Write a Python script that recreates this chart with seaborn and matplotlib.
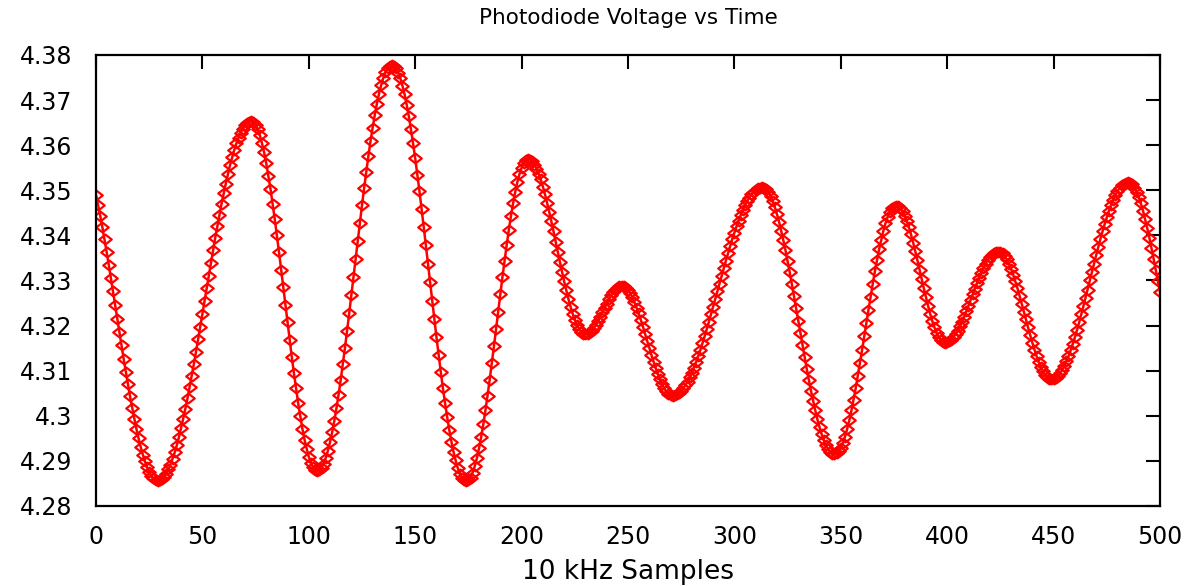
import numpy as np
import pandas as pd
import matplotlib
matplotlib.use("Agg")
import matplotlib.pyplot as plt
import seaborn as sns
from matplotlib.path import Path
from matplotlib.ticker import FuncFormatter

# Photodiode reading, in mV above 4.28 V, one value per 10 kHz sample
mv_000_099 = [
    69.0, 66.7, 64.3, 61.8, 59.1, 56.3, 53.5, 50.5, 47.6, 44.6,
    41.5, 38.5, 35.6, 32.6, 29.8, 27.0, 24.3, 21.8, 19.4, 17.1,
    15.0, 13.1, 11.4, 9.9, 8.6, 7.5, 6.7, 6.1, 5.7, 5.6,
    5.7, 6.0, 6.5, 7.2, 8.1, 9.2, 10.5, 11.9, 13.5, 15.3,
    17.3, 19.4, 21.6, 23.9, 26.4, 28.9, 31.5, 34.2, 37.0, 39.8,
    42.6, 45.5, 48.3, 51.1, 53.9, 56.7, 59.4, 62.0, 64.5, 67.0,
    69.3, 71.5, 73.6, 75.6, 77.3, 79.0, 80.4, 81.7, 82.8, 83.7,
    84.4, 84.9, 85.2, 85.3, 85.1, 84.5, 83.5, 82.2, 80.4, 78.4,
    76.0, 73.2, 70.3, 67.0, 63.6, 60.0, 56.3, 52.4, 48.5, 44.6,
    40.7, 36.8, 33.1, 29.5, 26.1, 22.8, 19.9, 17.1, 14.7, 12.7,
]
mv_100_199 = [
    10.9, 9.6, 8.6, 8.0, 7.8, 8.0, 8.5, 9.4, 10.7, 12.3,
    14.2, 16.4, 18.9, 21.7, 24.7, 28.0, 31.5, 35.1, 38.9, 42.8,
    46.8, 50.8, 54.8, 58.8, 62.8, 66.7, 70.5, 74.1, 77.6, 80.9,
    83.9, 86.7, 89.2, 91.4, 93.3, 94.9, 96.2, 97.1, 97.6, 97.8,
    97.6, 97.1, 96.1, 94.9, 93.2, 91.3, 89.0, 86.4, 83.5, 80.4,
    77.1, 73.5, 69.8, 65.9, 61.9, 57.8, 53.7, 49.6, 45.5, 41.4,
    37.4, 33.5, 29.8, 26.2, 22.9, 19.8, 16.9, 14.3, 12.0, 10.1,
    8.4, 7.2, 6.2, 5.7, 5.5, 5.7, 6.3, 7.4, 8.8, 10.6,
    12.8, 15.3, 18.1, 21.2, 24.5, 28.0, 31.7, 35.4, 39.3, 43.1,
    47.0, 50.8, 54.4, 57.9, 61.2, 64.3, 67.1, 69.6, 71.8, 73.6,
]
mv_200_299 = [
    75.0, 76.1, 76.7, 76.9, 76.8, 76.4, 75.7, 74.8, 73.7, 72.4,
    70.8, 69.1, 67.2, 65.2, 63.1, 60.9, 58.6, 56.4, 54.1, 51.9,
    49.8, 47.8, 45.9, 44.2, 42.6, 41.3, 40.2, 39.3, 38.6, 38.2,
    38.1, 38.2, 38.5, 38.9, 39.5, 40.2, 41.1, 42.0, 43.0, 43.9,
    44.9, 45.8, 46.7, 47.4, 48.0, 48.4, 48.7, 48.8, 48.7, 48.4,
    47.9, 47.2, 46.3, 45.2, 44.0, 42.7, 41.3, 39.8, 38.2, 36.6,
    35.1, 33.5, 32.0, 30.6, 29.3, 28.1, 27.0, 26.1, 25.4, 24.9,
    24.6, 24.5, 24.6, 24.8, 25.1, 25.5, 26.1, 26.8, 27.6, 28.5,
    29.5, 30.7, 31.9, 33.2, 34.6, 36.1, 37.6, 39.2, 40.8, 42.5,
    44.2, 45.9, 47.6, 49.3, 51.0, 52.7, 54.4, 56.0, 57.6, 59.2,
]
mv_300_399 = [
    60.6, 62.0, 63.3, 64.5, 65.7, 66.7, 67.6, 68.4, 69.1, 69.7,
    70.1, 70.4, 70.6, 70.7, 70.6, 70.2, 69.6, 68.7, 67.6, 66.3,
    64.7, 63.0, 61.0, 58.9, 56.7, 54.3, 51.8, 49.2, 46.5, 43.8,
    41.1, 38.4, 35.7, 33.0, 30.4, 27.9, 25.5, 23.3, 21.2, 19.2,
    17.5, 15.9, 14.6, 13.5, 12.6, 12.0, 11.6, 11.5, 11.7, 12.1,
    12.9, 14.0, 15.4, 17.1, 19.0, 21.2, 23.6, 26.1, 28.9, 31.7,
    34.6, 37.6, 40.5, 43.5, 46.4, 49.2, 52.0, 54.5, 56.9, 59.0,
    61.0, 62.7, 64.1, 65.2, 66.0, 66.4, 66.6, 66.5, 66.0, 65.3,
    64.4, 63.2, 61.8, 60.2, 58.4, 56.5, 54.5, 52.4, 50.4, 48.3,
    46.3, 44.4, 42.6, 41.0, 39.6, 38.4, 37.5, 36.8, 36.3, 36.2,
]
mv_400_500 = [
    36.3, 36.5, 36.9, 37.5, 38.1, 38.9, 39.9, 40.9, 42.0, 43.2,
    44.4, 45.7, 46.9, 48.2, 49.4, 50.6, 51.7, 52.7, 53.7, 54.5,
    55.2, 55.7, 56.1, 56.3, 56.4, 56.3, 56.0, 55.4, 54.7, 53.7,
    52.6, 51.3, 49.8, 48.3, 46.6, 44.9, 43.1, 41.4, 39.6, 37.9,
    36.2, 34.7, 33.2, 31.9, 30.8, 29.9, 29.1, 28.5, 28.2, 28.1,
    28.2, 28.4, 28.8, 29.4, 30.1, 31.0, 32.1, 33.2, 34.5, 35.9,
    37.4, 39.0, 40.7, 42.5, 44.3, 46.2, 48.0, 50.0, 51.9, 53.7,
    55.6, 57.4, 59.2, 60.9, 62.5, 64.0, 65.4, 66.7, 67.9, 68.9,
    69.8, 70.5, 71.1, 71.5, 71.7, 71.8, 71.7, 71.3, 70.6, 69.7,
    68.5, 67.1, 65.5, 63.6, 61.6, 59.5, 57.2, 54.8, 52.4, 49.9,
    47.4,
]

base_voltage = 4.28
title = "Photodiode Voltage vs Time"
xlabel = "10 kHz Samples"
x_ticks = [0, 50, 100, 150, 200, 250, 300, 350, 400, 450, 500]
y_ticks = [4.28, 4.29, 4.30, 4.31, 4.32, 4.33, 4.34, 4.35, 4.36, 4.37, 4.38]

mv = mv_000_099 + mv_100_199 + mv_200_299 + mv_300_399 + mv_400_500
df = pd.DataFrame({
    "sample": np.arange(len(mv)),
    "voltage": base_voltage + np.array(mv) / 1000.0,
})

sns.set_style("white")
plt.rcParams["font.family"] = ["DejaVu Sans"]
plt.rcParams["text.color"] = "black"
plt.rcParams["axes.labelcolor"] = "black"

fig = plt.figure(figsize=(11.92, 5.86), dpi=100)
W, H = 1192, 586
L, R, T, B = 96, 1160, 55, 506
ax = fig.add_axes([L / W, 1 - B / H, (R - L) / W, (B - T) / H])

diamond = Path([(-1.0, 0.0), (0.0, 0.78), (1.0, 0.0), (0.0, -0.78), (-1.0, 0.0)],
               [Path.MOVETO, Path.LINETO, Path.LINETO, Path.LINETO, Path.CLOSEPOLY])

sns.lineplot(data=df, x="sample", y="voltage", ax=ax, sort=False, errorbar=None,
             color="#ff0000", linewidth=1.8, marker=diamond, markersize=9,
             markerfacecolor="none", markeredgecolor="#ff0000", markeredgewidth=1.6)

ax.set_xlim(x_ticks[0], x_ticks[-1])
ax.set_ylim(y_ticks[0], y_ticks[-1])
ax.set_xticks(x_ticks)
ax.set_yticks(y_ticks)
ax.yaxis.set_major_formatter(FuncFormatter(lambda v, p: f"{round(v, 4):g}"))

for s in ax.spines.values():
    s.set_linewidth(1.6)
    s.set_color("black")
    s.set_visible(True)

ax.tick_params(axis="both", which="major", direction="in", length=10, width=1.5,
               top=True, right=True, labelsize=17, colors="black")
ax.tick_params(axis="x", pad=14)
ax.tick_params(axis="y", pad=17)

ax.set_title(title, fontsize=15.5, color="black",
             y=1 + (T - 18) / (B - T), va="center", pad=0)
ax.set_xlabel(xlabel, fontsize=19, color="black")
ax.set_ylabel("")
ax.xaxis.set_label_coords(0.5, -(572 - B) / (B - T))
ax.xaxis.label.set_va("center")

fig.savefig("out.png", dpi=100, facecolor="white")
